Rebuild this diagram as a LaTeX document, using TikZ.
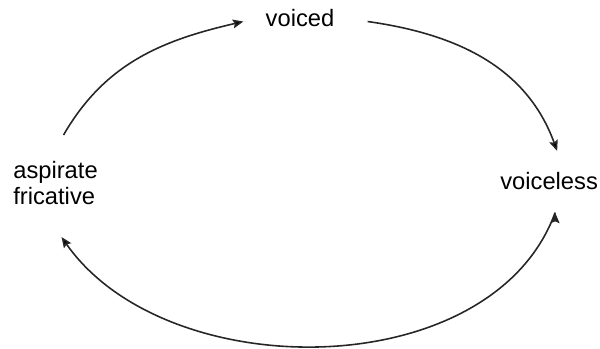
\documentclass[tikz,border=0pt]{standalone}
\usepackage{fontspec}
\setmainfont{Liberation Sans}
\usepackage{tikz}
\usetikzlibrary{arrows.meta}

\begin{document}
\begin{tikzpicture}[x=0.02cm, y=0.02cm, >={Stealth[length=6pt,width=5pt,inset=1pt]},
    sound/.style={inner sep=0pt, font=\fontsize{13.5}{15}\selectfont},
    cycle/.style={->, line width=0.9pt, draw=black!85}]
            \useasboundingbox (0,0) rectangle (600,349);

            \node[sound, anchor=base] (voiced) at (300,322) {voiced};
            \node[sound, anchor=base west] (voiceless) at (500,159) {voiceless};
            \node[sound, anchor=north west, align=left] (aspfric) at (13,188.4) {aspirate\\fricative};

            \path[cycle]
            ([shift={(8,25.6)}]aspfric.north) edge [out=60, in=193] ([shift={(-22,-3)}]voiced.west)
            ([shift={(33,-3)}]voiced.east) edge [out=-8, in=110] ([shift={(8,21.6)}]voiceless.north)
            ([shift={(6,-22)}]voiceless.south) edge [out=-110, in=-55, looseness=0.95] ([shift={(6,-32)}]aspfric.south);
        \end{tikzpicture}
\end{document}
